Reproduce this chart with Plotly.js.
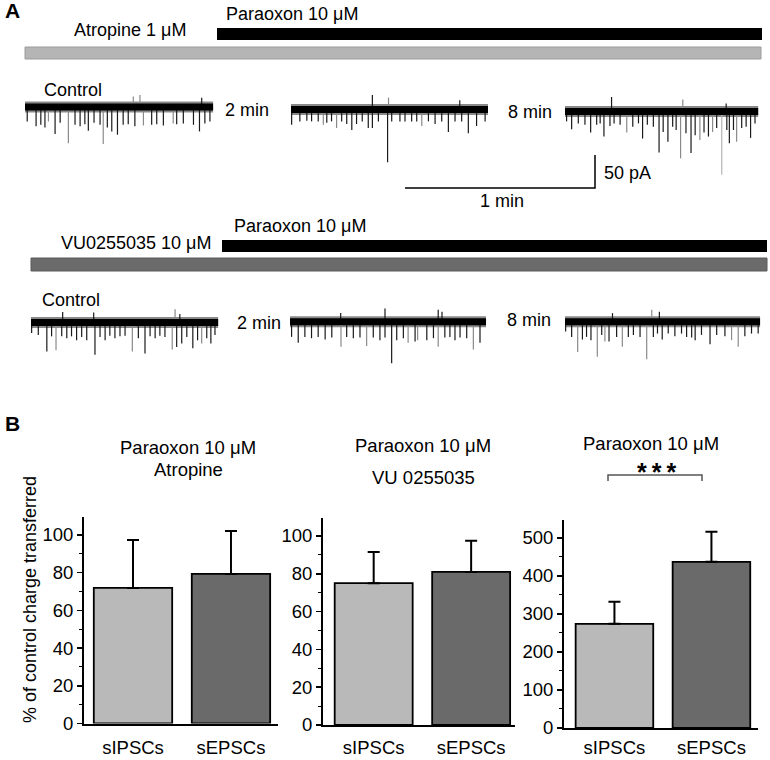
<!DOCTYPE html>
<html><head><meta charset="utf-8">
<script src="https://cdn.plot.ly/plotly-3.0.1.min.js"></script>
<style>html,body{margin:0;padding:0;background:#fff}#chart{width:770px;height:760px}</style>
</head><body><div id="chart"></div>
<script>
// ---------------- Panel A: recorded traces (spike times s, amplitudes pA, shade 0=black 1=grey 2=light grey)
const atrCtrlT = [0.7,3.5,5.0,6.3,7.4,9.5,11.1,13.7,15.8,17.4,18.9,20.0,21.8,23.7,24.7,26.0,27.4,29.2,31.0,32.6,34.7,37.4,40.0,41.6,43.7,46.8,47.9,50.0,53.2,55.1,56.8,58.4,34.2,36.3,55.8];
const atrCtrlA = [-22,-29,-27,-31,-22,-41,-24,-55,-27,-29,-26,-36,-24,-27,-56,-31,-37,-42,-27,-26,-29,-28,-27,-26,-28,-25,-26,-25,-27,-37,-25,-22,16,18,14];
const atrCtrlC = [0,0,0,0,1,0,0,1,0,0,0,0,0,0,1,0,0,0,0,0,0,1,0,0,0,1,0,0,0,0,0,0,1,1,0];

const atr2T = [0.2,2.8,5.0,6.5,8.6,10.2,11.3,12.8,14.4,16.0,17.6,19.2,20.7,22.5,24.4,25.7,27.6,30.5,31.8,34.4,36.0,38.1,39.7,41.3,43.4,45.5,47.6,49.7,51.8,53.9,56.0,58.6,61.3,25.7,30.8,53.3];
const atr2A = [-23,-18,-17,-18,-18,-23,-20,-18,-28,-18,-22,-31,-22,-18,-28,-28,-18,-80,-18,-18,-18,-18,-18,-25,-18,-22,-18,-34,-18,-18,-36,-25,-18,22,18,14];
const atr2C = [0,0,0,0,0,1,0,0,1,0,0,0,0,0,0,0,0,0,0,0,0,0,0,1,0,0,0,0,0,0,0,0,0,0,1,0];

const atr8T = [0.5,2.1,4.2,6.3,8.1,10.0,11.1,12.3,14.2,15.5,17.4,19.5,21.4,23.2,24.5,26.0,27.9,29.7,31.0,32.5,34.0,35.1,36.5,38.2,39.8,41.1,42.6,43.9,45.3,46.6,47.9,49.5,51.1,51.9,53.2,54.2,55.8,57.2,58.6,60.0,14.7,37.2,50.9];
const atr8A = [-15,-27,-18,-20,-32,-20,-18,-38,-22,-18,-20,-32,-23,-18,-41,-20,-23,-62,-31,-46,-23,-28,-71,-33,-63,-36,-43,-32,-38,-31,-25,-96,-28,-48,-28,-46,-25,-23,-40,-18,22,18,12];
const atr8C = [0,0,0,0,0,0,0,0,0,0,0,1,0,0,0,0,0,0,0,0,0,0,1,0,0,0,1,0,0,1,0,2,0,0,0,1,0,0,0,0,0,1,0];

const vuCtrlT = [0.2,2.3,5.0,6.5,7.9,9.7,11.3,12.8,14.4,16.0,17.6,20.2,21.8,23.4,24.9,26.5,28.1,29.7,32.0,33.9,36.0,37.6,39.2,40.7,42.3,44.6,46.0,47.6,49.2,51.1,52.6,53.9,55.5,56.8,58.1,10.0,19.8,45.5,47.0];
const vuCtrlA = [-16,-19,-44,-21,-42,-21,-24,-21,-27,-22,-27,-49,-22,-27,-20,-24,-21,-20,-44,-24,-47,-21,-24,-20,-22,-41,-37,-32,-22,-39,-27,-32,-24,-32,-19,16,15,20,13];
const vuCtrlC = [0,0,0,0,1,0,0,0,0,0,0,0,0,0,0,0,0,0,1,0,0,0,0,0,0,1,0,0,0,0,0,1,0,0,0,0,0,1,0];

const vu2T = [0.5,2.6,4.7,6.8,8.9,11.1,13.2,16.1,17.9,20.0,22.1,24.2,26.3,28.4,30.0,32.1,33.7,35.8,37.3,39.5,40.3,43.2,45.3,46.8,48.9,50.5,52.1,53.7,55.8,57.9,60.0,30.0,46.8,48.0,16.0];
const vu2A = [-23,-32,-23,-25,-23,-27,-24,-38,-23,-25,-24,-37,-24,-28,-24,-63,-28,-25,-32,-30,-28,-28,-25,-38,-24,-23,-28,-24,-25,-42,-32,20,18,15,13];
const vu2C = [0,0,0,0,0,0,0,1,0,0,0,1,0,0,0,0,0,0,1,0,1,0,0,1,0,0,0,0,0,1,0,0,0,0,0];

const vu8T = [0.2,2.1,4.0,5.5,6.8,8.2,10.2,11.6,12.6,13.9,16.3,18.1,20.0,21.6,23.7,25.8,27.9,29.2,30.7,32.6,34.7,36.8,38.4,40.0,41.1,43.1,45.8,47.9,50.5,52.6,54.7,56.8,58.9,61.0,27.4,29.8,15.0];
const vu8A = [-15,-23,-46,-27,-23,-28,-53,-20,-30,-30,-23,-38,-23,-20,-23,-57,-23,-18,-27,-18,-22,-18,-23,-24,-28,-20,-34,-20,-22,-28,-38,-22,-18,-18,18,15,13];
const vu8C = [0,0,1,0,0,0,1,0,1,0,0,1,0,0,0,1,0,0,0,0,0,0,0,0,0,0,0,0,0,1,1,0,0,0,1,0,0];

const recDuration = [59.4, 62.2, 61.0, 59.1, 61.9, 61.6]; // s
const scaleBarTime = 60;   // s (1 min)
const scaleBarCurrent = 50; // pA

// ---------------- Panel B: % of control charge transferred
const categories = ['sIPSCs', 'sEPSCs'];
const atropineMean = [71.9, 79.3];
const atropineSEM  = [25.4, 22.8];
const vuMean = [75, 81];
const vuSEM  = [16.5, 16.4];
const paraoxonMean = [274, 437];
const paraoxonSEM  = [58, 79];

// ---------------- layout helpers
const W = 770, H = 760;
const FONT = '"Liberation Sans", Arial, Helvetica, sans-serif';
const SPX = 60 / 190;   // seconds per pixel
const PPX = 50 / 33;    // pA per pixel
const px = x => x / W, py = y => 1 - y / H;
const tS = x => x * SPX;
const yA = y => -y * PPX;

const recs = [
  [atrCtrlT, atrCtrlA, atrCtrlC], [atr2T, atr2A, atr2C], [atr8T, atr8A, atr8C],
  [vuCtrlT, vuCtrlA, vuCtrlC], [vu2T, vu2A, vu2C], [vu8T, vu8A, vu8C]
];
const placeLeft = [25, 291, 565, 31, 290, 565];
const placeBase = [107, 109.5, 111.5, 322.5, 321.7, 321.7];
const shadeColor = ['#1a1a1a', '#8a8a8a', '#b4b4b4'];

const traces = [];
recs.forEach((r, i) => {
  const [T, A, C] = r;
  const x0 = tS(placeLeft[i]), y0 = yA(placeBase[i]);
  traces.push({type:'scatter', mode:'lines', x:[x0, x0 + recDuration[i]], y:[y0, y0],
    line:{color:'rgba(40,40,40,0.55)', width:11}, xaxis:'x', yaxis:'y', hoverinfo:'skip'});
  [1, 2, 0].forEach(s => {
    const xs = [], ys = [];
    T.forEach((t, k) => { if (C[k] === s) { xs.push(x0 + t, x0 + t, null); ys.push(y0, y0 + A[k], null); } });
    if (xs.length) traces.push({type:'scatter', mode:'lines', x:xs, y:ys, connectgaps:false,
      line:{color:shadeColor[s], width:1.2}, xaxis:'x', yaxis:'y', hoverinfo:'skip'});
  });
  traces.push({type:'scatter', mode:'lines', x:[x0, x0 + recDuration[i]], y:[y0, y0],
    line:{color:'#000', width:7}, xaxis:'x', yaxis:'y', hoverinfo:'skip'});
});
// scale bar
const cx = tS(595), cy = yA(188);
traces.push({type:'scatter', mode:'lines', x:[cx - scaleBarTime, cx, cx], y:[cy, cy, cy + scaleBarCurrent],
  line:{color:'#000', width:1.5}, xaxis:'x', yaxis:'y', hoverinfo:'skip'});

// bars
const barColors = ['#b9b9b9', '#6a6a6a'];
[[atropineMean, atropineSEM, 'x2', 'y2'], [vuMean, vuSEM, 'x3', 'y3'], [paraoxonMean, paraoxonSEM, 'x4', 'y4']]
.forEach(([m, e, xa, ya]) => {
  traces.push({type:'bar', x:categories, y:m, xaxis:xa, yaxis:ya, width:0.8,
    marker:{color:barColors, line:{color:'#000', width:1.8}},
    error_y:{type:'data', symmetric:false, array:e, arrayminus:[0, 0], color:'#000', thickness:2, width:6},
    hoverinfo:'skip'});
});

function xAx(l, r, range, anchor, so) {
  return {domain:[px(l), px(r)], range, type:'category', anchor, showline:true, linecolor:'#000', linewidth:2,
    ticks:'', showgrid:false, zeroline:false, fixedrange:true, ticklabelstandoff:so,
    tickfont:{family:FONT, size:18.5, color:'#000'}};
}
function yAx(bottom, top, maxV, dt, anchor) {
  return {domain:[py(bottom), py(top)], range:[0, maxV], anchor, tick0:0, dtick:dt, ticks:'outside', ticklen:5,
    tickwidth:1.5, tickcolor:'#000', showline:true, linecolor:'#000', linewidth:2, showgrid:false, zeroline:false,
    fixedrange:true, tickfont:{family:FONT, size:18.5, color:'#000'},
    minor:{dtick:dt / 2, ticks:'outside', ticklen:3, tickwidth:1, tickcolor:'#000', showgrid:false}};
}

function ann(text, x, y, o = {}) {
  return Object.assign({text, x:px(x), y:py(y), xref:'paper', yref:'paper', xanchor:o.xa || 'left', yanchor:'middle',
    showarrow:false, font:{family:FONT, size:o.size || 18, color:'#000'}}, o.extra || {});
}
const annotations = [
  ann('<b>A</b>', 3, 11, {size:21}),
  ann('Paraoxon 10 μM', 224, 14),
  ann('Atropine 1 μM', 72, 30),
  ann('Control', 42, 90),
  ann('2 min', 223, 110),
  ann('8 min', 506, 112),
  ann('50 pA', 602, 173),
  ann('1 min', 502, 201, {xa:'center'}),
  ann('Paraoxon 10 μM', 232, 226),
  ann('VU0255035 10 μM', 59, 243),
  ann('Control', 40, 300),
  ann('2 min', 235, 323),
  ann('8 min', 505, 320),
  ann('<b>B</b>', 3, 423, {size:21}),
  ann('Paraoxon 10 μM', 188, 448, {xa:'center', size:18.5}),
  ann('Atropine', 188, 469, {xa:'center', size:18.5}),
  ann('Paraoxon 10 μM', 423, 445, {xa:'center', size:18.5}),
  ann('VU 0255035', 423, 478, {xa:'center', size:18.5}),
  ann('Paraoxon 10 μM', 651, 443, {xa:'center', size:18.5}),
  ann('<b>*&#8201;*&#8201;*</b>', 656, 472, {xa:'center', size:25}),
  ann('% of control charge transferred', 30, 600, {xa:'center', size:18, extra:{textangle:-90}})
];

function rect(x0, x1, y0, y1, fill, lc, lw) {
  return {type:'rect', xref:'paper', yref:'paper', x0:px(x0), x1:px(x1), y0:py(y1), y1:py(y0),
    fillcolor:fill, line:{color:lc || fill, width:lw || 0}, layer:'below'};
}
const shapes = [
  rect(217, 762, 28, 40, '#000'),
  rect(25, 761, 47, 59, '#b5b5b5', '#9c9c9c', 1),
  rect(222, 767, 240, 252, '#000'),
  rect(31, 767, 258, 271, '#6b6b6b', '#5a5a5a', 1),
  {type:'path', xref:'paper', yref:'paper',
   path:`M ${px(608)},${py(481)} L ${px(608)},${py(475)} L ${px(702)},${py(475)} L ${px(702)},${py(481)}`,
   line:{color:'#555', width:1.5}}
];

const layout = {
  width:W, height:H, margin:{l:0, r:0, t:0, b:0}, paper_bgcolor:'#fff', plot_bgcolor:'rgba(0,0,0,0)',
  showlegend:false, font:{family:FONT, color:'#000'},
  xaxis:{domain:[0, 1], range:[0, tS(W)], visible:false, fixedrange:true},
  yaxis:{domain:[0, 1], range:[yA(H), 0], visible:false, fixedrange:true},
  xaxis2:xAx(84, 278, [-0.5, 1.48], 'y2', 6),
  yaxis2:yAx(723.5, 517, 109.5, 20, 'x2'),
  xaxis3:xAx(323, 515, [-0.52, 1.45], 'y3', 5),
  yaxis3:yAx(725, 518, 109.5, 20, 'x3'),
  xaxis4:xAx(564, 758, [-0.52, 1.48], 'y4', 2),
  yaxis4:yAx(728, 520, 547, 100, 'x4'),
  annotations, shapes, bargap:0.2
};
Plotly.newPlot('chart', traces, layout, {staticPlot:true, displayModeBar:false});
</script></body></html>
